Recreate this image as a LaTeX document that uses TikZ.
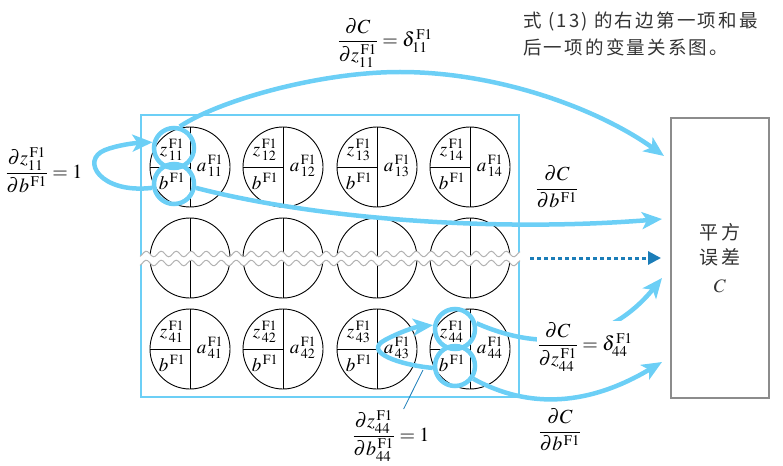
\documentclass[tikz,border=0pt]{standalone}
\usepackage{amsmath}
\usepackage{mathptmx}
\usepackage{fontspec}
\setmainfont{Liberation Serif}
\newfontfamily\cjk[LetterSpace=12]{Noto Sans CJK SC}
\usetikzlibrary{arrows.meta,positioning}
\definecolor{skyline}{HTML}{6CCFF6}
\definecolor{deepblue}{HTML}{1B7DB8}
\definecolor{boxgray}{HTML}{8C8C8C}
\definecolor{inkgray}{HTML}{333333}
\tikzstyle{neuron}=[circle,draw,line width=0.9pt,minimum size=80pt,inner sep=0pt]
\tikzstyle{ntext}=[inner sep=0pt,font=\fontsize{19}{22}\selectfont]
\tikzstyle{ring}=[circle,draw=skyline,line width=4.5pt,minimum size=40pt,inner sep=0pt]
\tikzstyle{flow}=[draw=skyline,line width=4.5pt,-{Stealth[length=20pt,width=17pt,inset=5pt]}]
\tikzstyle{eqn}=[inner sep=1pt,font=\fontsize{20}{24}\selectfont]
\tikzstyle{costbox}=[rectangle,draw=boxgray,line width=2.5pt,minimum width=98pt,minimum height=280pt,align=center,text=inkgray,font=\fontsize{19}{25}\selectfont]

\begin{document}
\begin{tikzpicture}[x=1pt,y=-1pt]
\useasboundingbox (0,0) rectangle (783,465);
% layer frame
\node[draw=skyline,line width=2pt,minimum width=378pt,minimum height=282pt,inner sep=0pt] (layer) at (330,256) {};
% neurons, first and last row
\foreach \r/\y in {1/167,4/349}{
  \foreach \c/\x in {1/190,2/283,3/377,4/470}{
    \node[neuron] (n\r\c) at (\x,\y) {};
    \draw[line width=0.9pt] (n\r\c.north) -- (n\r\c.south);
    \draw[line width=0.9pt] (n\r\c.west) -- (n\r\c.center);
    \node[ntext] (z\r\c) at ([shift={(-18,-17)}]n\r\c.center) {$z^{\,\mathrm{F1}}_{\,\r\c}$};
    \node[ntext] (b\r\c) at ([shift={(-18,14)}]n\r\c.center) {$b^{\,\mathrm{F1}}$};
    \node[ntext] (a\r\c) at ([shift={(20,-1)}]n\r\c.center) {$a^{\,\mathrm{F1}}_{\,\r\c}$};
  }
}
% middle row, cut
\foreach \c/\x in {1/190,2/283,3/377,4/470}{
  \node[neuron] (n2\c) at (\x,258) {};
  \draw[line width=0.9pt] (n2\c.north) -- (n2\c.south);
}
\fill[white] plot[domain=140:520,samples=200] (\x,{254+2.8*sin(24*\x)})
  -- plot[domain=520:140,samples=200] (\x,{263+2.8*sin(24*\x)}) -- cycle;
\draw[gray!60,line width=1pt] plot[domain=140:520,samples=200] (\x,{254+2.8*sin(24*\x)});
\draw[gray!60,line width=1pt] plot[domain=140:520,samples=200] (\x,{263+2.8*sin(24*\x)});

% cost
\node[costbox] (cost) at (720,258) {{\cjk 平方}\\{\cjk 误差}\\[3pt]$C$};
\node[anchor=west,align=left,inner sep=0pt,text=inkgray,font=\fontsize{18.5}{27}\selectfont] (note) at (523,34)
  {\cjk 式 (13) 的右边第一项和最\\\cjk 后一项的变量关系图。};

% rings
\node[ring] (zring11) at (174,148) {};
\node[ring] (bring11) at (174,184) {};
\node[ring] (zring44) at (455,329) {};
\node[ring] (bring44) at (455,366) {};

% free ends
\coordinate (tipA) at (664,156);
\coordinate (tipB) at (662,219);
\coordinate (dotA) at (530,258);
\coordinate (tipC) at (661,258);
\coordinate (tipD) at (662,278);
\coordinate (tipE) at (662,362);
\coordinate (tap) at (423,370);

% labels
\node[eqn] (dCz11) at (385,43) {$\dfrac{\partial C}{\partial z^{\,\mathrm{F1}}_{11}}=\delta^{\,\mathrm{F1}}_{11}$};
\node[eqn] (dzb11) at (44,170) {$\dfrac{\partial z^{\,\mathrm{F1}}_{11}}{\partial b^{\,\mathrm{F1}}}=1$};
\node[eqn] (dCb11) at (557,187) {$\dfrac{\partial C}{\partial b^{\,\mathrm{F1}}}$};
\node[eqn] (dCb44) at (560,430) {$\dfrac{\partial C}{\partial b^{\,\mathrm{F1}}}$};
\node[eqn] (dzb44) at (391,436) {$\dfrac{\partial z^{\,\mathrm{F1}}_{44}}{\partial b^{\,\mathrm{F1}}_{44}}=1$};

% arrows
\draw[flow] (zring11.75) .. controls (220,100) and (320,72) .. (400,72)
  .. controls (500,72) and (600,110) .. (tipA);
\draw[flow] (bring11.-10) .. controls (320,220) and (500,232) .. (tipB);
\draw[flow] (bring11.190) .. controls (100,194) and (80,160) .. (105,150)
  .. controls (118,145) and (135,143) .. (zring11.165);
\draw[deepblue,line width=3pt,dash pattern=on 4pt off 3pt,-{Triangle[length=13pt,width=13pt]}] (dotA) -- (tipC);
\draw[flow] (bring44.185) .. controls (400,365) and (362,352) .. (385,340)
  .. controls (400,332) and (415,327) .. (zring44.170);
\draw[flow] (zring44.15) .. controls (560,360) and (620,330) .. (tipD);
\draw[flow] (bring44.-35) .. controls (530,410) and (590,405) .. (tipE);
\draw[deepblue,line width=0.8pt] (tap) -- (dzb44.65);
\node[eqn,fill=white] (dCz44) at (585,347) {$\dfrac{\partial C}{\partial z^{\,\mathrm{F1}}_{44}}=\delta^{\,\mathrm{F1}}_{44}$};
\end{tikzpicture}
\end{document}
